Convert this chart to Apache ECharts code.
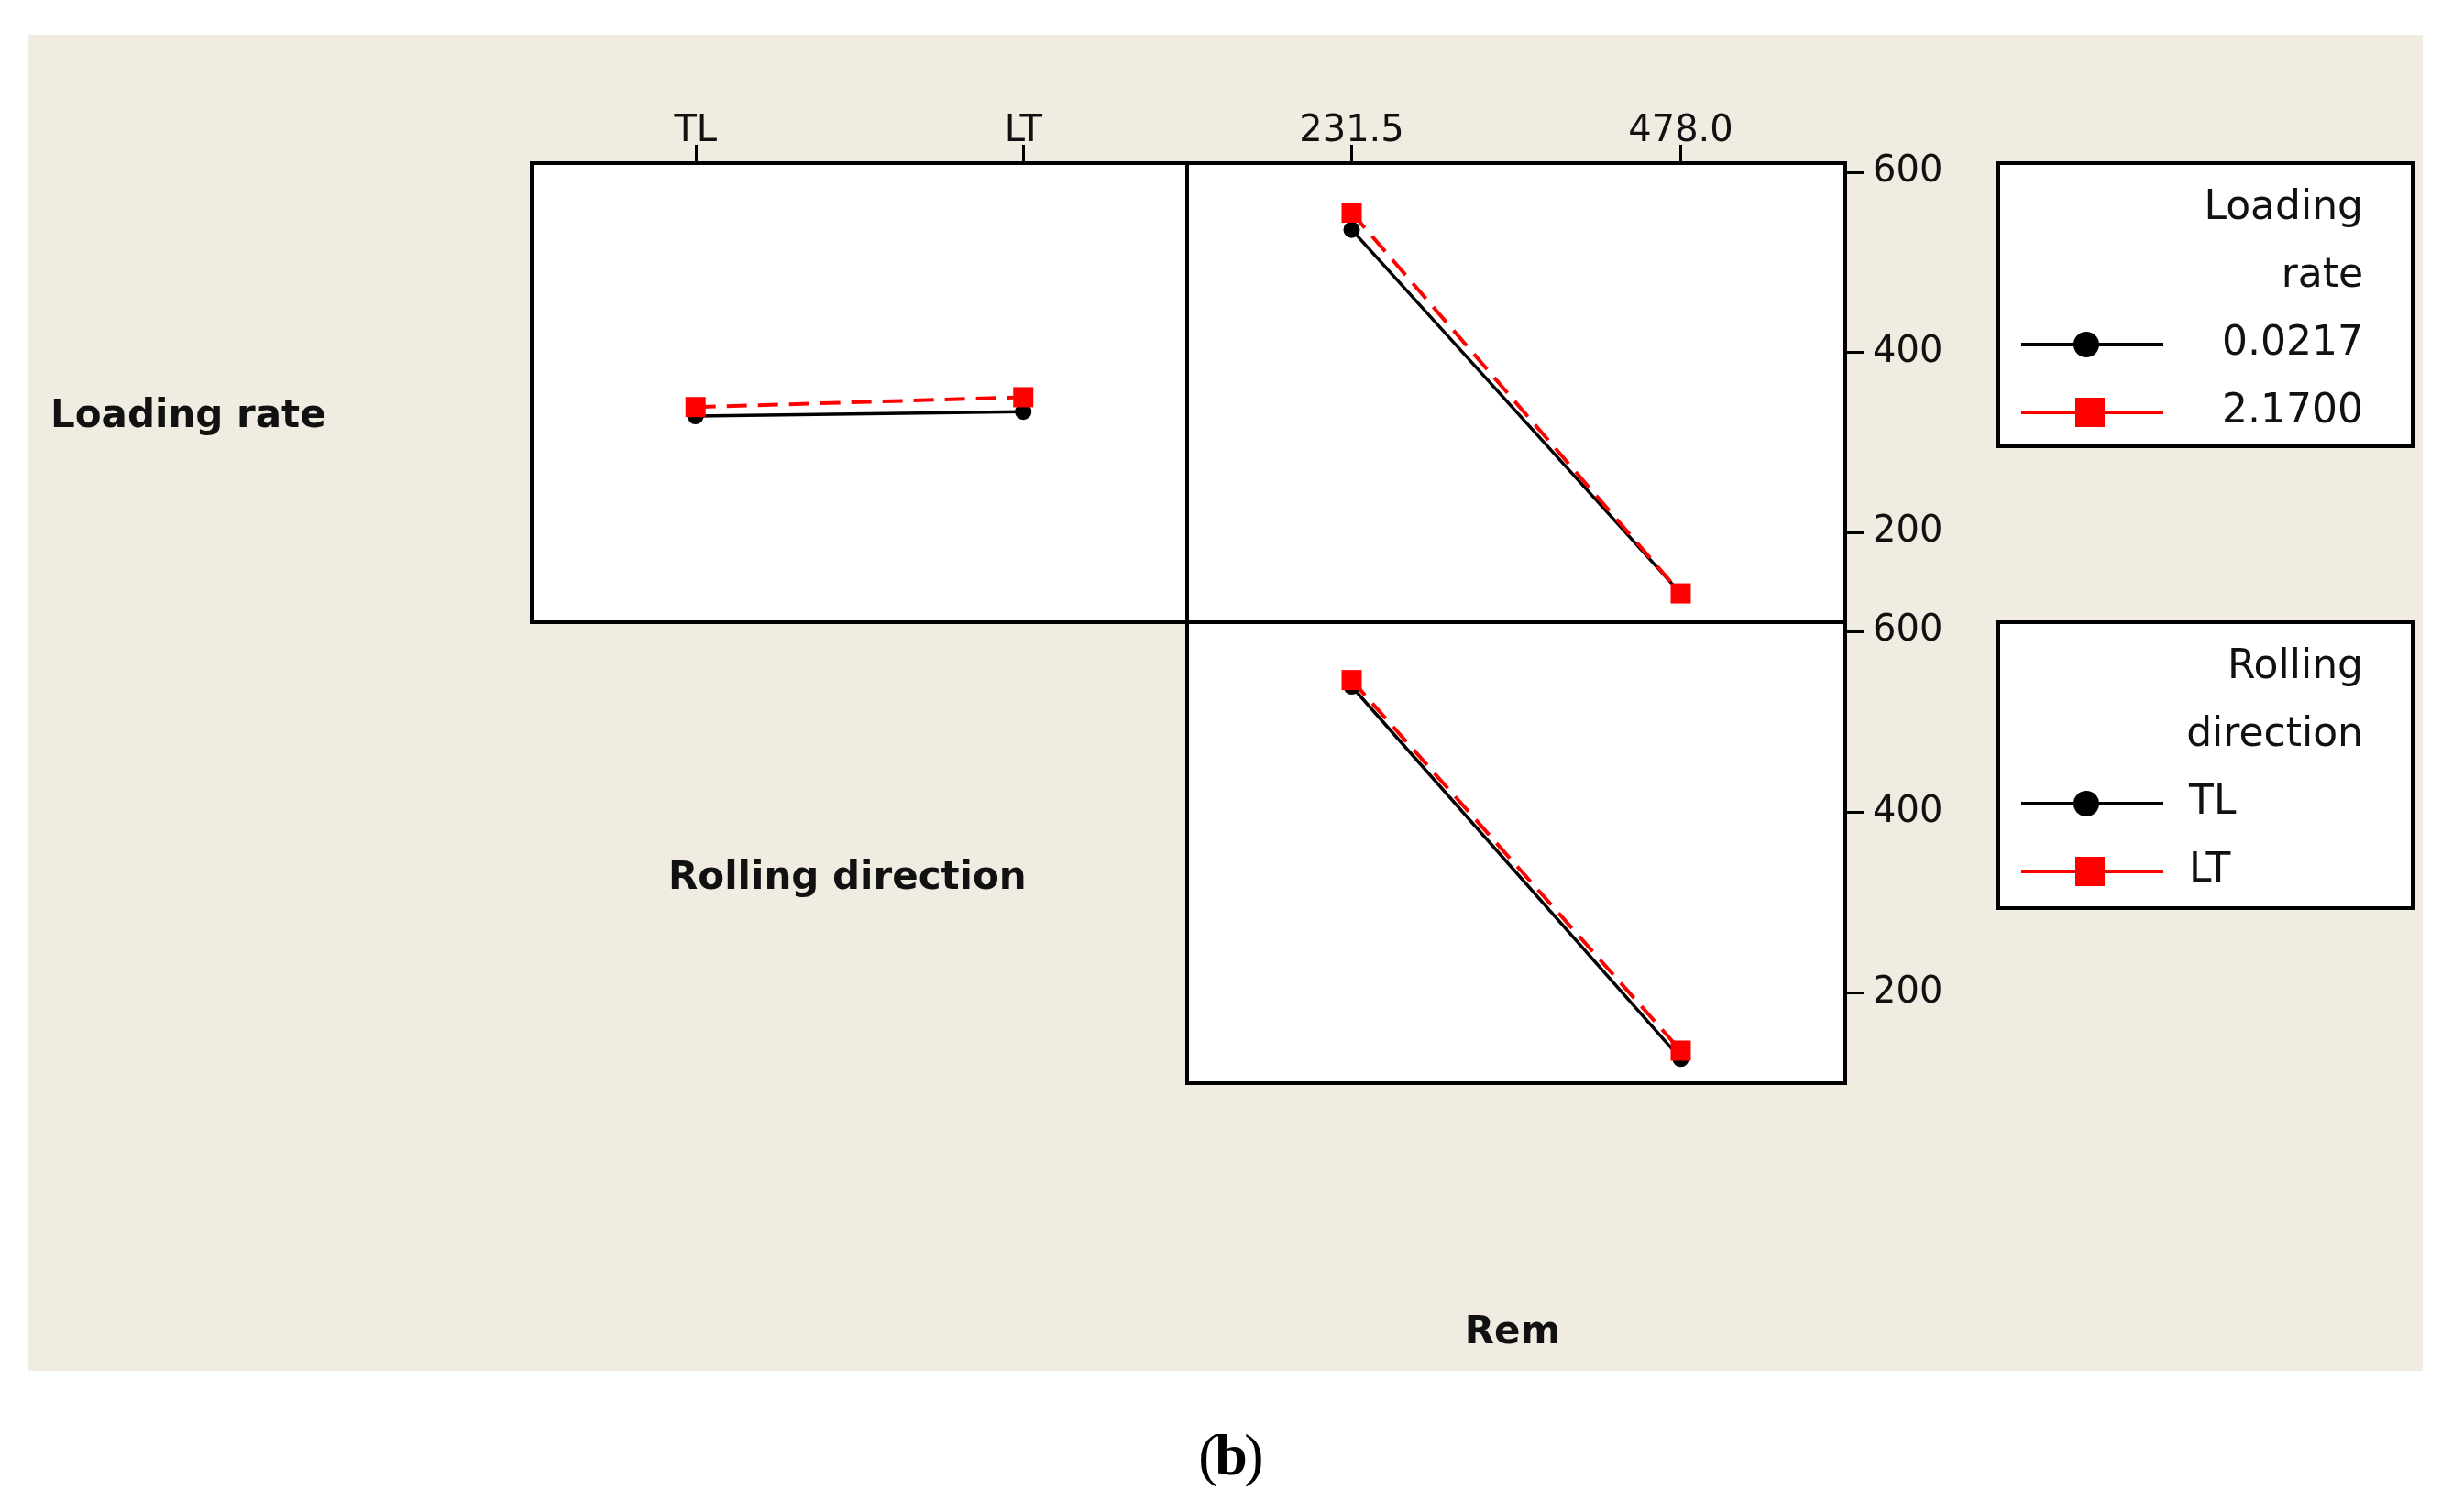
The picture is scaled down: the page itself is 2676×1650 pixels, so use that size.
<!DOCTYPE html>
<html><head><meta charset="utf-8">
<script src="https://cdn.jsdelivr.net/npm/echarts@6/dist/echarts.min.js"></script>
<style>html,body{margin:0;background:#fff}#c{width:2676px;height:1650px}</style>
</head><body><div id="c"></div>
<script>
// categories
const dirCats = ["TL", "LT"];
const remCats = ["231.5", "478.0"];
const yTicks = [200, 400, 600];
// interaction means
const rateByDir = { "0.0217": [329, 334], "2.1700": [339, 350] };
const rateByRem = { "0.0217": [536, 132], "2.1700": [555, 132] };
const dirByRem = { "TL": [539, 127], "LT": [546, 136] };

const chart = echarts.init(document.getElementById("c"));
const F = "DejaVu Sans";
const grids = [
  { left: 580, top: 178, width: 715, height: 501 },
  { left: 1295, top: 178, width: 718, height: 501 },
  { left: 1295, top: 679, width: 718, height: 503 }
];
const gridStyle = g => Object.assign({ show: true, backgroundColor: "#fff", borderColor: "#000", borderWidth: 4 }, g);

const xAx = (gi, cats, top) => ({
  type: "category", gridIndex: gi, data: cats, boundaryGap: true,
  position: "top", show: top,
  axisLine: { show: false },
  axisTick: { show: true, alignWithLabel: true, inside: false, length: 20, lineStyle: { color: "#000", width: 3 } },
  axisLabel: { fontFamily: F, fontSize: 40, color: "#111", margin: 14 },
  splitLine: { show: false }
});
const yAx = (gi, right) => ({
  type: "value", gridIndex: gi, min: 100, max: 610, position: "right", show: right,
  axisLine: { show: false },
  axisTick: { show: true, length: 20, customValues: yTicks, lineStyle: { color: "#000", width: 3 } },
  axisLabel: { fontFamily: F, fontSize: 40, color: "#111", margin: 30, customValues: yTicks },
  splitLine: { show: false }
});

function pair(gi, data, names) {
  return [
    { type: "line", xAxisIndex: gi, yAxisIndex: gi, data: data[names[0]], symbol: "circle", symbolSize: 18,
      itemStyle: { color: "#000" }, lineStyle: { color: "#000", width: 3.5 } },
    { type: "line", xAxisIndex: gi, yAxisIndex: gi, data: data[names[1]], symbol: "rect", symbolSize: 22,
      itemStyle: { color: "#f00" }, lineStyle: { color: "#f00", width: 4, type: [22, 12] } }
  ];
}

function legendBox(top, h, title, labels, labelX) {
  const els = [{ type: "rect", shape: { x: 2180, y: top, width: 452, height: h },
    style: { fill: "#fff", stroke: "#000", lineWidth: 4 } }];
  title.forEach((t, i) => els.push({ type: "text", x: 2578, y: top + 50 + i * 74,
    style: { text: t, font: "44px '" + F + "'", fill: "#111", align: "right", verticalAlign: "middle" } }));
  const ly = top + 50 + title.length * 74;
  labels.forEach((t, i) => {
    const y = ly + i * 74;
    const red = i === 1;
    els.push({ type: "line", shape: { x1: 2205, y1: y, x2: 2360, y2: y },
      style: { stroke: red ? "#f00" : "#000", lineWidth: 4 } });
    els.push(red
      ? { type: "rect", shape: { x: 2264, y: y - 16, width: 32, height: 32 }, style: { fill: "#f00" } }
      : { type: "circle", shape: { cx: 2276, cy: y, r: 14 }, style: { fill: "#000" } });
    els.push({ type: "text", x: labelX, y: y, style: { text: t, font: "44px '" + F + "'", fill: "#111",
      align: labelX > 2500 ? "right" : "left", verticalAlign: "middle" } });
  });
  return els;
}

const option = {
  backgroundColor: "#fff",
  animation: false,
  grid: grids.map(gridStyle),
  xAxis: [xAx(0, dirCats, true), xAx(1, remCats, true), xAx(2, remCats, false)],
  yAxis: [yAx(0, false), yAx(1, true), yAx(2, true)],
  series: [].concat(
    pair(0, rateByDir, ["0.0217", "2.1700"]),
    pair(1, rateByRem, ["0.0217", "2.1700"]),
    pair(2, dirByRem, ["TL", "LT"])
  ),
  graphic: [
    { type: "rect", z: -10, shape: { x: 31, y: 38, width: 2612, height: 1458 }, style: { fill: "#f1ece2" } },
    { type: "text", x: 55, y: 455, style: { text: "Loading rate", font: "bold 42px '" + F + "'", fill: "#111", verticalAlign: "middle" } },
    { type: "text", x: 729, y: 959, style: { text: "Rolling direction", font: "bold 42px '" + F + "'", fill: "#111", verticalAlign: "middle" } },
    { type: "text", x: 1650, y: 1455, style: { text: "Rem", font: "bold 42px '" + F + "'", fill: "#111", align: "center", verticalAlign: "middle" } },
    { type: "text", x: 1318, y: 1592, style: { text: "(", font: "64px 'Liberation Serif'", fill: "#000", align: "center", verticalAlign: "middle" } },
    { type: "text", x: 1343, y: 1592, style: { text: "b", font: "bold 64px 'Liberation Serif'", fill: "#000", align: "center", verticalAlign: "middle" } },
    { type: "text", x: 1368, y: 1592, style: { text: ")", font: "64px 'Liberation Serif'", fill: "#000", align: "center", verticalAlign: "middle" } }
  ].concat(
    legendBox(178, 309, ["Loading", "rate"], ["0.0217", "2.1700"], 2578),
    legendBox(679, 312, ["Rolling", "direction"], ["TL", "LT"], 2388)
  )
};
chart.setOption(option);
</script></body></html>
